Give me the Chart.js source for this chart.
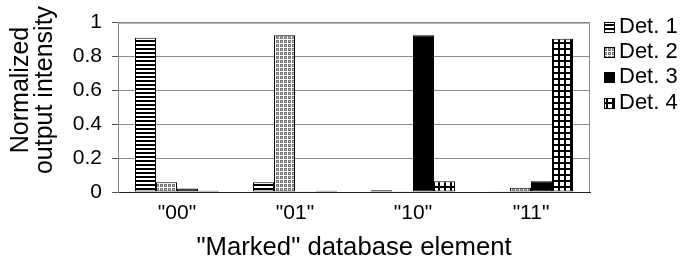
<!DOCTYPE html>
<html>
<head>
<meta charset="utf-8">
<script src="https://cdn.jsdelivr.net/npm/chart.js@4/dist/chart.umd.min.js"></script>
<style>
html,body{margin:0;padding:0;background:#fff;}
#wrap{width:687px;height:270px;}
</style>
</head>
<body>
<div id="wrap"><canvas id="c" width="687" height="270"></canvas></div>
<script>
const categories = ['"00"', '"01"', '"10"', '"11"'];
const seriesNames = ['Det. 1', 'Det. 2', 'Det. 3', 'Det. 4'];
const det1 = [0.91, 0.057, 0.01, 0.005];
const det2 = [0.058, 0.925, 0.005, 0.025];
const det3 = [0.02, 0.005, 0.925, 0.064];
const det4 = [0.008, 0.008, 0.064, 0.905];
const yTicks = [0, 0.2, 0.4, 0.6, 0.8, 1];
const yTitleLines = ['Normalized', 'output intensity'];
const xTitle = '"Marked" database element';

const FONT = "'Liberation Sans', Arial, Helvetica, sans-serif";

function makePattern(w, h, draw) {
  const c = document.createElement('canvas');
  c.width = w; c.height = h;
  const x = c.getContext('2d');
  draw(x);
  return document.getElementById('c').getContext('2d').createPattern(c, 'repeat');
}
const pat1 = makePattern(4, 4, x => { x.fillStyle = '#fff'; x.fillRect(0,0,4,4); x.fillStyle = '#000'; x.fillRect(0,0,4,2); });
const pat2 = makePattern(4, 4, x => { x.fillStyle = '#fff'; x.fillRect(0,0,4,4); x.fillStyle = '#7a7a7a'; x.fillRect(0,0,3,3); x.fillStyle='#bbb'; x.fillRect(1,1,1,1); });
const pat3 = '#000';
const pat4 = makePattern(6, 6, x => { x.fillStyle = '#fff'; x.fillRect(0,0,6,6); x.fillStyle = '#000'; x.fillRect(0,0,6,2); x.fillRect(0,0,2,6); });
const fills = [pat1, pat2, pat3, pat4];
const values = [det1, det2, det3, det4];

const datasets = values.map((v, i) => ({
  label: seriesNames[i],
  data: v,
  backgroundColor: fills[i],
  borderColor: '#000',
  borderWidth: 1,
  borderSkipped: false,
  categoryPercentage: 0.712,
  barPercentage: 1.0
}));

const framePlugin = {
  id: 'frame',
  afterDraw(chart) {
    const {ctx, chartArea: a} = chart;
    ctx.save();
    ctx.strokeStyle = '#888';
    ctx.lineWidth = 1;
    ctx.beginPath();
    ctx.moveTo(a.left + 0.5, a.top + 0.5);
    ctx.lineTo(a.right - 0.5, a.top + 0.5);
    ctx.lineTo(a.right - 0.5, a.bottom);
    ctx.stroke();
    // y title
    ctx.save();
    ctx.fillStyle = '#000';
    ctx.font = '25px ' + FONT;
    ctx.textAlign = 'center';
    ctx.textBaseline = 'middle';
    ctx.translate(0, 90);
    ctx.rotate(-Math.PI / 2);
    ctx.fillText(yTitleLines[0], 0, 21);
    ctx.fillText(yTitleLines[1], 0, 45);
    ctx.restore();
    // legend
    ctx.font = '22px ' + FONT;
    ctx.textBaseline = 'middle';
    ctx.textAlign = 'left';
    const ys = [27, 52, 77, 103];
    chart.data.datasets.forEach((ds, i) => {
      const y = ys[i];
      ctx.fillStyle = ds.backgroundColor;
      ctx.fillRect(604, y - 5, 11, 11);
      ctx.strokeStyle = '#000';
      ctx.strokeRect(604.5, y - 4.5, 10, 10);
      ctx.fillStyle = '#000';
      ctx.fillText(ds.label, 619, y);
    });
    ctx.restore();
  }
};

new Chart(document.getElementById('c'), {
  type: 'bar',
  data: { labels: categories, datasets },
  options: {
    responsive: false,
    animation: false,
    devicePixelRatio: 1,
    layout: { padding: { top: 15, right: 97, left: 0, bottom: 0 } },
    plugins: { legend: { display: false }, tooltip: { enabled: false } },
    scales: {
      x: {
        grid: { display: false, drawTicks: false },
        border: { display: true, color: '#222', width: 1 },
        ticks: { color: '#000', font: { family: FONT, size: 21 }, padding: 9 },
        title: { display: true, text: xTitle, color: '#000',
                 font: { family: FONT, size: 25.7, lineHeight: 1 }, padding: { top: 0, bottom: 9 } },
        afterFit(s) { s.height = 78; }
      },
      y: {
        min: 0, max: 1,
        afterBuildTicks(s) { s.ticks = yTicks.map(v => ({ value: v })); },
        grid: {
          color: c => c.tick && c.tick.value === 0 ? '#222' : '#8c8c8c',
          lineWidth: 1,
          tickLength: 6,
          tickColor: '#555'
        },
        border: { display: true, color: '#888', width: 1 },
        ticks: { color: '#000', font: { family: FONT, size: 21 }, padding: 10,
                 callback: v => String(v) },
        title: { display: false },
        afterFit(s) { s.width = 118; }
      }
    }
  },
  plugins: [framePlugin]
});
</script>
</body>
</html>
